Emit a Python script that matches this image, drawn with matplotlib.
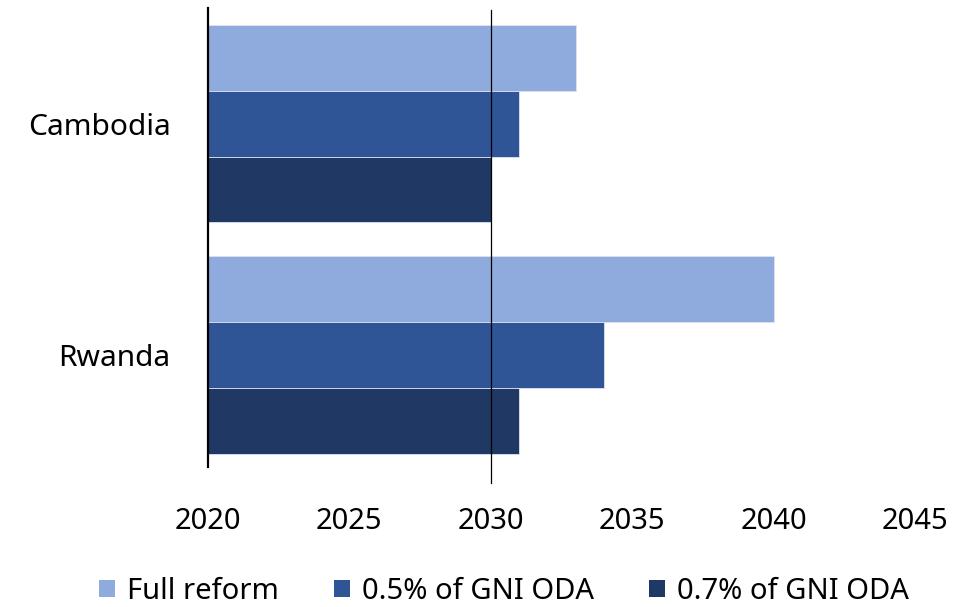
import matplotlib
matplotlib.use("Agg")
import matplotlib.pyplot as plt
from matplotlib.patches import Patch
import matplotlib.transforms as mtransforms

plt.rcParams['font.family'] = ['Noto Sans', 'DejaVu Sans']

countries = ["Cambodia", "Rwanda"]
series = ["Full reform", "0.5% of GNI ODA", "0.7% of GNI ODA"]
values = {
    "Full reform": [2033, 2040],
    "0.5% of GNI ODA": [2031, 2034],
    "0.7% of GNI ODA": [2030, 2031],
}
colors = ["#8FAADC", "#2F5597", "#203864"]
xticks = [2020, 2025, 2030, 2035, 2040, 2045]
base = 2020

fig = plt.figure(figsize=(9.79, 6.07), dpi=100)
ax = fig.add_axes([0.2125, 0.2306, 0.9346 - 0.2125, 0.9868 - 0.2306])

centers = {"Cambodia": 1.0, "Rwanda": 0.0}
h = 0.285
offsets = [h, 0.0, -h]
for s, c, off in zip(series, colors, offsets):
    ys = [centers[k] + off for k in countries]
    widths = [v - base for v in values[s]]
    ax.barh(ys, widths, left=base, height=h, color=c, edgecolor="#dde4f0",
            linewidth=0.6, label=s, zorder=2)

fs = 21
ax.set_xlim(2020, 2045)
ax.set_ylim(-0.484, 1.499)
ax.set_xticks(xticks)
ax.set_xticklabels([str(t) for t in xticks], fontsize=fs)
ax.set_yticks([centers[k] for k in countries])
ax.set_yticklabels(countries, fontsize=21.5)
ax.tick_params(axis="x", length=0, pad=29)
ax.tick_params(axis="y", length=0, pad=27)
for sp in ["top", "right", "bottom"]:
    ax.spines[sp].set_visible(False)
ax.spines["left"].set_linewidth(1.6)
ax.spines["left"].set_color("black")
ax.spines["left"].set_zorder(4)

trans = mtransforms.blended_transform_factory(ax.transData, ax.transAxes)
ax.plot([2030, 2030], [-0.035, 0.995], transform=trans, color="black",
        linewidth=0.9, clip_on=False, zorder=3)

handles = [Patch(facecolor=c, edgecolor="none") for c in colors]
fig.legend(handles, series, loc="lower center", ncol=3, frameon=False,
           fontsize=fs, handlelength=0.55, handleheight=0.55,
           handletextpad=0.4, columnspacing=1.9, borderpad=0.2,
           bbox_to_anchor=(0.515, -0.032))

fig.savefig("out.png", dpi=100)
